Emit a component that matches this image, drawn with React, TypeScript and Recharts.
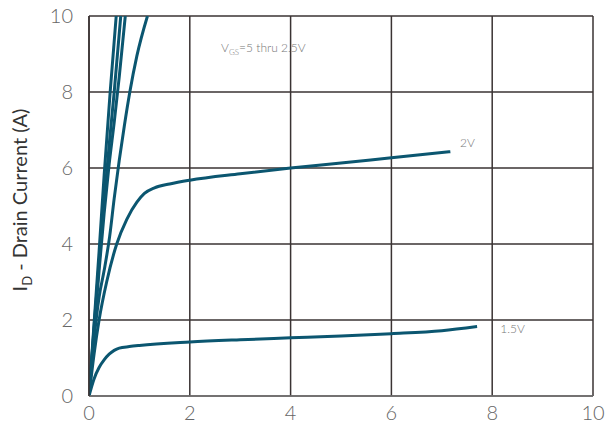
import React from "react";
import { LineChart, Line, XAxis, YAxis, CartesianGrid, ReferenceDot } from "recharts";

const xTicks = [0, 2, 4, 6, 8, 10];
const yTicks = [0, 2, 4, 6, 8, 10];

// VGS = 5 thru 2.5V (steep curves)
const vgs5 = [
  { vds: 0, id: 0 }, { vds: 0.1, id: 1.9 }, { vds: 0.2, id: 3.8 }, { vds: 0.3, id: 5.8 },
  { vds: 0.42, id: 8 }, { vds: 0.54, id: 10 },
];
const vgs4 = [
  { vds: 0, id: 0 }, { vds: 0.1, id: 1.8 }, { vds: 0.2, id: 3.5 }, { vds: 0.3, id: 5.1 },
  { vds: 0.4, id: 6.6 }, { vds: 0.5, id: 8 }, { vds: 0.63, id: 10 },
];
const vgs3 = [
  { vds: 0, id: 0 }, { vds: 0.1, id: 1.7 }, { vds: 0.2, id: 3.3 }, { vds: 0.3, id: 4.8 },
  { vds: 0.4, id: 6.1 }, { vds: 0.5, id: 7.2 }, { vds: 0.6, id: 8.4 }, { vds: 0.72, id: 10 },
];
const vgs25 = [
  { vds: 0, id: 0 }, { vds: 0.1, id: 1.5 }, { vds: 0.2, id: 2.6 }, { vds: 0.3, id: 3.3 },
  { vds: 0.41, id: 4.2 }, { vds: 0.5, id: 5.2 }, { vds: 0.6, id: 6.2 }, { vds: 0.7, id: 7.1 },
  { vds: 0.81, id: 8 }, { vds: 0.95, id: 8.95 }, { vds: 1.16, id: 10 },
];
const vgs2 = [
  { vds: 0, id: 0 }, { vds: 0.1, id: 1.1 }, { vds: 0.2, id: 2.0 }, { vds: 0.35, id: 3.0 },
  { vds: 0.55, id: 4.0 }, { vds: 0.75, id: 4.65 }, { vds: 0.95, id: 5.1 }, { vds: 1.1, id: 5.33 },
  { vds: 1.3, id: 5.48 }, { vds: 1.6, id: 5.58 }, { vds: 2, id: 5.68 }, { vds: 3, id: 5.85 },
  { vds: 4, id: 6.0 }, { vds: 5, id: 6.13 }, { vds: 6, id: 6.27 }, { vds: 7.17, id: 6.43 },
];
const vgs15 = [
  { vds: 0, id: 0 }, { vds: 0.1, id: 0.45 }, { vds: 0.2, id: 0.75 }, { vds: 0.3, id: 0.95 },
  { vds: 0.4, id: 1.1 }, { vds: 0.5, id: 1.2 }, { vds: 0.6, id: 1.26 }, { vds: 0.8, id: 1.3 },
  { vds: 1, id: 1.33 }, { vds: 2, id: 1.42 }, { vds: 3, id: 1.48 }, { vds: 4, id: 1.53 },
  { vds: 5, id: 1.58 }, { vds: 6, id: 1.64 }, { vds: 7, id: 1.72 }, { vds: 7.7, id: 1.83 },
];

const series = [vgs5, vgs4, vgs3, vgs25, vgs2, vgs15];

const FONT = "Lato, 'Open Sans', sans-serif";
const LINE = "#0b5670";

function Note({ viewBox, main, sub, rest }: any) {
  const { x, y } = viewBox || {};
  return (
    <text x={x} y={y} fontFamily={FONT} fontWeight={300} fontSize={12} fill="#777">
      {main}
      {sub ? <tspan fontSize={8} dy={3}>{sub}</tspan> : null}
      {sub ? <tspan dy={-3}>{rest}</tspan> : null}
    </text>
  );
}

function YLabel() {
  return (
    <text
      transform="translate(27,200) rotate(-90)"
      textAnchor="middle"
      fontFamily={FONT}
      fontSize={20}
      fill="#333"
    >
      I<tspan fontSize={13} dy={5}>D</tspan>
      <tspan dy={-5}> - Drain Current (A)</tspan>
    </text>
  );
}

export default function App() {
  return (
    <div style={{ width: 606, height: 428 }}>
      <style>{`body{margin:0}`}</style>
      <LineChart width={606} height={428} margin={{ top: 16, right: 13, bottom: 0, left: 0 }}>
        <CartesianGrid stroke="#3a3333" strokeWidth={1.5} />
        <XAxis
          type="number"
          dataKey="vds"
          domain={[0, 10]}
          ticks={xTicks}
          height={32}
          tickSize={0}
          tickMargin={10}
          axisLine={{ stroke: "#777", strokeWidth: 1.5 }}
          tick={{ fontSize: 20, fill: "#666", fontFamily: FONT, fontWeight: 300 }}
          allowDataOverflow
        />
        <YAxis
          type="number"
          dataKey="id"
          domain={[0, 10]}
          ticks={yTicks}
          width={89}
          tickSize={0}
          tickMargin={16}
          axisLine={{ stroke: "#3a3333", strokeWidth: 1.5 }}
          tick={{ fontSize: 20, fill: "#666", fontFamily: FONT, fontWeight: 300 }}
          label={{ content: () => <YLabel /> }}
          allowDataOverflow
        />
        {series.map((d, i) => (
          <Line
            key={i}
            data={d}
            dataKey="id"
            type="monotone"
            stroke={LINE}
            strokeWidth={3}
            dot={false}
            activeDot={false}
            isAnimationActive={false}
          />
        ))}
        <ReferenceDot x={2.62} y={9.05} r={0} fill="none" stroke="none"
          label={{ content: (p: any) => <Note {...p} main="V" sub="GS" rest="=5 thru 2.5V" /> }} />
        <ReferenceDot x={7.36} y={6.55} r={0} fill="none" stroke="none"
          label={{ content: (p: any) => <Note {...p} main="2V" /> }} />
        <ReferenceDot x={8.16} y={1.65} r={0} fill="none" stroke="none"
          label={{ content: (p: any) => <Note {...p} main="1.5V" /> }} />
      </LineChart>
    </div>
  );
}
